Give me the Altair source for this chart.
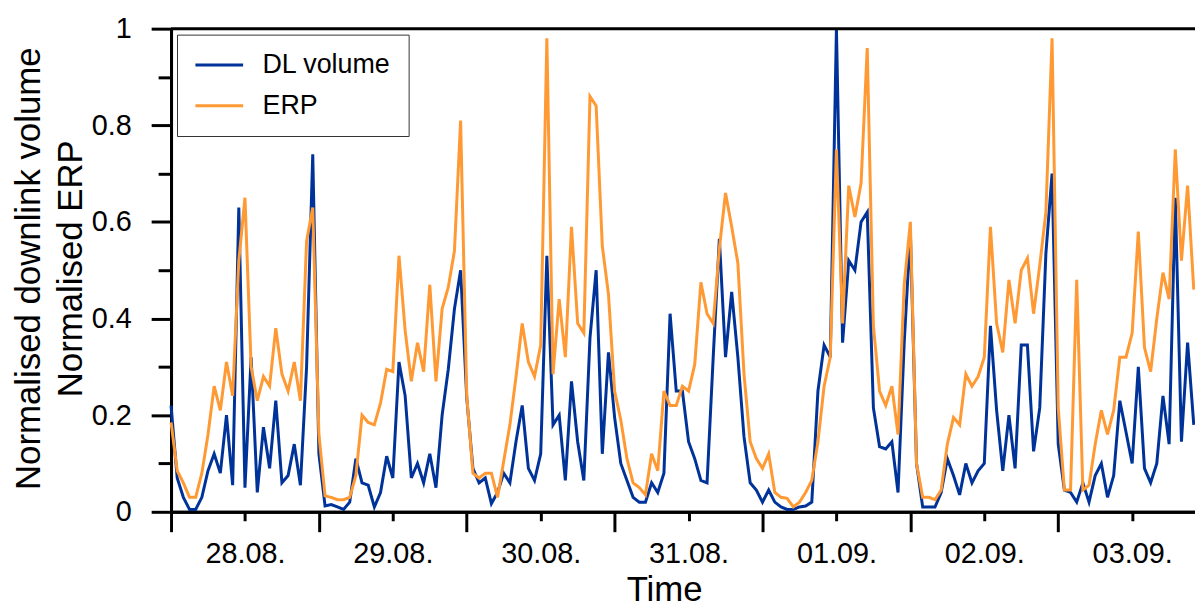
import altair as alt
import pandas as pd

# hourly samples starting 28.08. 00:00
dl_volume = [
    0.22, 0.07, 0.03, 0.005, 0.005, 0.03, 0.085, 0.12, 0.08, 0.2, 0.055, 0.63,
    0.05, 0.32, 0.04, 0.175, 0.09, 0.23, 0.06, 0.075, 0.14, 0.055, 0.3, 0.74,
    0.12, 0.012, 0.015, 0.01, 0.005, 0.02, 0.11, 0.06, 0.055, 0.01, 0.04, 0.115,
    0.07, 0.31, 0.24, 0.07, 0.1, 0.06, 0.12, 0.05, 0.2, 0.295, 0.42, 0.5,
    0.235, 0.09, 0.06, 0.07, 0.017, 0.04, 0.08, 0.06, 0.146, 0.22, 0.09, 0.065,
    0.12, 0.53, 0.18, 0.2, 0.065, 0.27, 0.145, 0.065, 0.36, 0.5, 0.12, 0.33,
    0.195, 0.1, 0.065, 0.03, 0.02, 0.02, 0.06, 0.04, 0.08, 0.41, 0.25, 0.25,
    0.145, 0.11, 0.065, 0.06, 0.32, 0.565, 0.32, 0.455, 0.32, 0.155, 0.06, 0.045,
    0.02, 0.045, 0.02, 0.01, 0.005, 0.005, 0.01, 0.012, 0.02, 0.25, 0.345, 0.32,
    1.0, 0.35, 0.52, 0.5, 0.6, 0.62, 0.215, 0.135, 0.13, 0.145, 0.04, 0.35,
    0.58, 0.1, 0.01, 0.01, 0.01, 0.04, 0.11, 0.075, 0.035, 0.1, 0.06, 0.085,
    0.1, 0.385, 0.21, 0.085, 0.2, 0.09, 0.345, 0.345, 0.125, 0.215, 0.535, 0.7,
    0.14, 0.045, 0.04, 0.02, 0.06, 0.02, 0.075, 0.1, 0.03, 0.075, 0.23, 0.165,
    0.1, 0.3, 0.09, 0.06, 0.1, 0.24, 0.14, 0.65, 0.145, 0.35, 0.18,
]
erp = [
    0.185, 0.085, 0.06, 0.03, 0.03, 0.08, 0.16, 0.26, 0.21, 0.31, 0.24, 0.52,
    0.65, 0.3, 0.23, 0.28, 0.26, 0.38, 0.285, 0.25, 0.31, 0.23, 0.56, 0.63,
    0.16, 0.033, 0.03, 0.025, 0.025, 0.03, 0.075, 0.2, 0.185, 0.18, 0.225, 0.295,
    0.29, 0.53, 0.375, 0.27, 0.35, 0.29, 0.47, 0.27, 0.42, 0.465, 0.54, 0.81,
    0.24, 0.08, 0.07, 0.08, 0.08, 0.03, 0.105, 0.18, 0.28, 0.39, 0.31, 0.28,
    0.345, 0.98, 0.285, 0.44, 0.32, 0.59, 0.39, 0.37, 0.86, 0.84, 0.55, 0.45,
    0.25, 0.19, 0.11, 0.06, 0.05, 0.035, 0.12, 0.085, 0.25, 0.22, 0.22, 0.26,
    0.25, 0.305, 0.475, 0.41, 0.39, 0.545, 0.66, 0.59, 0.515, 0.285, 0.145, 0.11,
    0.09, 0.12, 0.04, 0.03, 0.028, 0.01, 0.02, 0.04, 0.065, 0.145, 0.26, 0.32,
    0.75, 0.39, 0.675, 0.61, 0.68, 0.96, 0.385, 0.25, 0.22, 0.26, 0.16, 0.47,
    0.6, 0.1, 0.03, 0.03, 0.025, 0.045, 0.14, 0.195, 0.18, 0.285, 0.26, 0.28,
    0.32, 0.59, 0.39, 0.33, 0.48, 0.39, 0.5, 0.525, 0.41, 0.51, 0.62, 0.98,
    0.215, 0.045, 0.045, 0.48, 0.045, 0.055, 0.14, 0.21, 0.16, 0.21, 0.32, 0.32,
    0.37, 0.58, 0.34, 0.29, 0.4, 0.495, 0.44, 0.75, 0.52, 0.675, 0.46,
]
hours = list(range(len(dl_volume)))
series_names = ["DL volume", "ERP"]
series_colors = ["#003399", "#FF9933"]
day_labels = ["28.08.", "29.08.", "30.08.", "31.08.", "01.09.", "02.09.", "03.09."]
day_starts = [0, 24, 48, 72, 96, 120, 144]
day_noons = [12, 36, 60, 84, 108, 132, 156]
y_major = [0, 0.2, 0.4, 0.6, 0.8, 1]
y_minor = [0.1, 0.3, 0.5, 0.7, 0.9]

df = pd.DataFrame({
    "hour": hours + hours,
    "value": dl_volume + erp,
    "series": [series_names[0]] * len(hours) + [series_names[1]] * len(hours),
})

FONT = "Liberation Sans"
XMAX = 166.2
label_expr = "[" + ",".join(f"'{d}'" for d in day_labels) + "][floor(datum.value / 24)]"

xscale = alt.Scale(domain=[0, XMAX], nice=False, zero=False)
yscale = alt.Scale(domain=[0, 1], nice=False)

lines = alt.Chart(df).mark_line(strokeWidth=3).encode(
    x=alt.X("hour:Q", scale=xscale, axis=alt.Axis(
        orient="bottom", offset=0, values=day_starts, tickSize=20, tickWidth=3,
        tickColor="black", domainWidth=3, domainColor="black", labels=False, grid=False,
        title="Time", titleFontSize=35, titleFont=FONT, titleFontWeight="normal",
        titleColor="black", titleX=496, titleY=89, titleBaseline="alphabetic",
        titleAlign="center")),
    y=alt.Y("value:Q", scale=yscale, axis=alt.Axis(
        orient="left", offset=0, values=y_major, format="~g", tickSize=20, tickWidth=3,
        tickColor="black", domainWidth=3, domainColor="black", grid=False,
        labelFontSize=29, labelFont=FONT, labelColor="black", labelPadding=20,
        title=["Normalised downlink volume", "Normalised ERP"], titleFontSize=35,
        titleFont=FONT, titleFontWeight="normal", titleColor="black",
        titleAngle=-90, titleX=-143, titleY=241, titleBaseline="middle",
        titleAlign="center", titleLineHeight=42)),
    color=alt.Color("series:N", scale=alt.Scale(domain=series_names, range=series_colors),
                    legend=alt.Legend(
                        orient="none", legendX=6, legendY=6, title=None,
                        symbolType="M-2,0H2", symbolStrokeWidth=3, symbolSize=576,
                        symbolOffset=12, labelFontSize=27, labelFont=FONT,
                        labelColor="black", labelOffset=30, padding=17, rowPadding=13,
                        strokeColor="#333333", fillColor="white")),
)

border = alt.Chart(pd.DataFrame({"a": [0]})).mark_rule(color="black", strokeWidth=3).encode(
    x=alt.XDatum(0, type="quantitative", scale=xscale, axis=alt.Axis(
        orient="bottom", offset=0, values=day_noons, tickSize=9, tickWidth=3,
        tickColor="black", domainWidth=3, domainColor="black", grid=False,
        labelExpr=label_expr, labelFontSize=29, labelFont=FONT, labelColor="black",
        labelPadding=19, title=None)),
    x2=alt.X2Datum(XMAX),
    y=alt.YDatum(1, type="quantitative", scale=yscale, axis=alt.Axis(
        orient="left", offset=0, values=y_minor, tickSize=13, tickWidth=3,
        tickColor="black", domainWidth=3, domainColor="black", grid=False,
        labels=False, title=None)),
)

chart = alt.layer(lines, border).resolve_axis(x="independent", y="independent").properties(
    width=1030, height=486,
    autosize=alt.AutoSizeParams(type="none"),
    padding={"left": 164, "top": 19, "right": 0, "bottom": 96},
    background="white",
).configure_view(stroke=None)

chart.save("out.html", embed_options={"renderer": "svg", "actions": False})
